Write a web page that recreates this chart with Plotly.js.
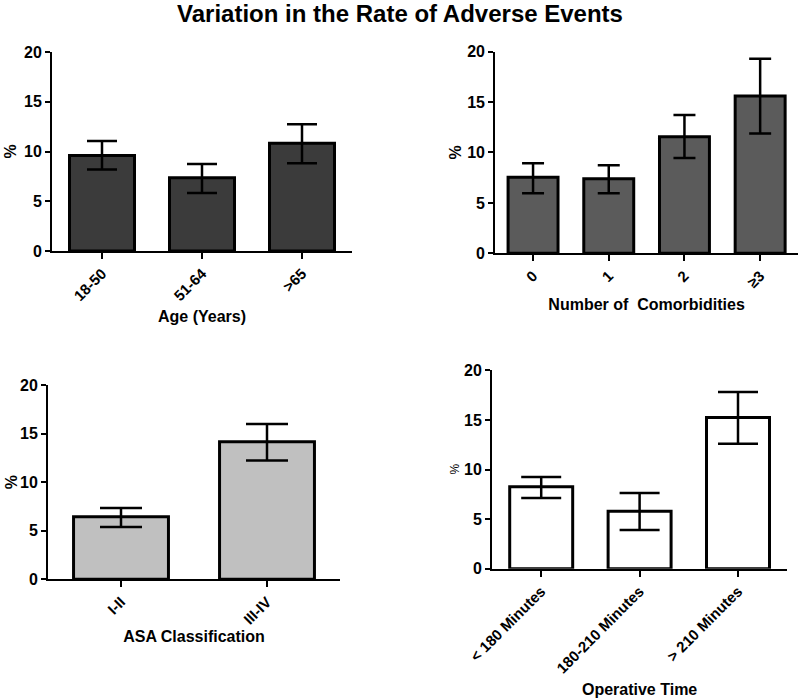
<!DOCTYPE html>
<html>
<head>
<meta charset="utf-8">
<script src="https://cdn.plot.ly/plotly-3.0.1.min.js"></script>
<style>html,body{margin:0;padding:0;background:#fff;}#chart{width:800px;height:698px;}</style>
</head>
<body>
<div id="chart"></div>
<script>
// Panel 1: Age
const ageCats = ["18-50", "51-64", ">65"];
const ageVals = [9.6, 7.37, 10.82];
const ageErrPlus = [1.45, 1.37, 1.91];
const ageErrMinus = [1.4, 1.54, 2.01];

// Panel 2: Comorbidities
const comCats = ["0", "1", "2", "≥3"];
const comVals = [7.54, 7.4, 11.57, 15.6];
const comErrPlus = [1.39, 1.33, 2.15, 3.7];
const comErrMinus = [1.59, 1.45, 2.12, 3.73];

// Panel 3: ASA
const asaCats = ["I-II", "III-IV"];
const asaVals = [6.44, 14.16];
const asaErrPlus = [0.9, 1.82];
const asaErrMinus = [1.06, 1.92];

// Panel 4: Operative time
const opCats = ["< 180 Minutes", "180-210 Minutes", "> 210 Minutes"];
const opVals = [8.25, 5.8, 15.24];
const opErrPlus = [0.99, 1.84, 2.58];
const opErrMinus = [1.12, 1.9, 2.64];

const yTitle = "%";

const FONT = "Liberation Sans, Arial, sans-serif";

function barTrace(cats, vals, ep, em, fill, xa, ya, capw, bw) {
  return {
    type: "bar", x: cats, y: vals, xaxis: xa, yaxis: ya,
    width: bw,
    marker: {color: fill, line: {color: "#000", width: 3}},
    error_y: {type: "data", symmetric: false, array: ep, arrayminus: em,
              color: "#000", thickness: 2.5, width: capw},
    hoverinfo: "x+y", showlegend: false
  };
}

const data = [
  barTrace(ageCats, ageVals, ageErrPlus, ageErrMinus, "#3b3b3b", "x", "y", 15, 0.65),
  barTrace(comCats, comVals, comErrPlus, comErrMinus, "#5b5b5b", "x2", "y2", 11, 0.66),
  barTrace(asaCats, asaVals, asaErrPlus, asaErrMinus, "#c0c0c0", "x3", "y3", 21, 0.65),
  barTrace(opCats, opVals, opErrPlus, opErrMinus, "#ffffff", "x4", "y4", 20, 0.64)
];

function xax(domain, anchor, title, n, standoff) {
  return {
    domain: domain, anchor: anchor, type: "category",
    range: [-0.5, n - 0.5],
    showline: true, linecolor: "#000", linewidth: 2,
    ticks: "outside", ticklen: 6, tickwidth: 2, tickcolor: "#000",
    tickangle: -45, showgrid: false, zeroline: false, fixedrange: true,
    tickfont: {family: FONT, size: 15, color: "#000", weight: "bold"},
    title: {text: title, standoff: standoff,
            font: {family: FONT, size: 16, color: "#000", weight: "bold"}}
  };
}
function yax(domain, anchor) {
  return {
    domain: domain, anchor: anchor, range: [0, 20],
    tickvals: [0, 5, 10, 15, 20],
    showline: true, linecolor: "#000", linewidth: 2,
    ticks: "outside", ticklen: 5, tickwidth: 2, tickcolor: "#000",
    showgrid: false, zeroline: false, fixedrange: true,
    tickfont: {family: FONT, size: 16, color: "#000", weight: "bold"}
  };
}
const boldTitle = {family: FONT, size: 16, color: "#000", weight: "bold"};
const plainTitle = {family: FONT, size: 12, color: "#000", weight: "normal"};

function yTitleAnn(xpx, dom, font) {
  return {text: yTitle, xref: "paper", yref: "paper", x: xpx / 800, y: (dom[0] + dom[1]) / 2,
          xanchor: "center", yanchor: "middle", textangle: -90, showarrow: false, font: font};
}

const d1 = [0.6404, 0.9255], d2 = [0.6371, 0.926], d3 = [0.170, 0.4484], d4 = [0.1852, 0.4695];

const layout = {
  width: 800, height: 698,
  margin: {l: 0, r: 0, t: 0, b: 0},
  paper_bgcolor: "#fff", plot_bgcolor: "rgba(0,0,0,0)",
  font: {family: FONT, color: "#000"},
  title: {text: "Variation in the Rate of Adverse Events", x: 0.5, xanchor: "center",
          y: 0.981, yanchor: "middle",
          font: {family: FONT, size: 24, color: "#000", weight: "bold"}},
  xaxis: xax([0.065, 0.44], "y", "Age (Years)", 3, 8),
  yaxis: yax(d1, "x"),
  xaxis2: xax([0.619, 0.9975], "y2", "Number of  Comorbidities", 4, 9),
  yaxis2: yax(d2, "x2"),
  xaxis3: xax([0.06, 0.425], "y3", "ASA Classification", 2, 4),
  yaxis3: yax(d3, "x3"),
  xaxis4: xax([0.615, 0.984], "y4", "Operative Time", 3, 12),
  yaxis4: yax(d4, "x4"),
  annotations: [
    yTitleAnn(11, d1, boldTitle),
    yTitleAnn(455, d2, boldTitle),
    yTitleAnn(11, d3, boldTitle),
    yTitleAnn(455, d4, plainTitle)
  ]
};

Plotly.newPlot("chart", data, layout, {displayModeBar: false, staticPlot: true});
</script>
</body>
</html>
